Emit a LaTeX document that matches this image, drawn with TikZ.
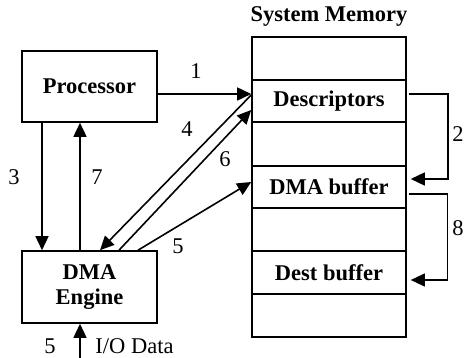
\documentclass[tikz,border=0pt]{standalone}
\usepackage{fontspec}
\setmainfont{Liberation Serif}
\usetikzlibrary{arrows.meta}
\begin{document}
\begin{tikzpicture}[x=1pt,y=-1pt,line width=1.6pt,
  every node/.style={font=\fontsize{22.5}{25}\selectfont,inner sep=0pt},
  blk/.style={draw,minimum width=135pt,minimum height=71pt,align=center,
    font=\bfseries\fontsize{22.5}{25}\selectfont},
  cell/.style={draw,minimum width=154pt,minimum height=43pt,
    font=\bfseries\fontsize{22.5}{25}\selectfont},
  arr/.style={-{Triangle[length=14pt,width=13pt]}},
  lbl/.style={anchor=base}]
\useasboundingbox (0,0) rectangle (468,358);

% processor and DMA engine
\node[blk] (proc) at (89.5,86.5) {Processor};
\node[blk,minimum height=72pt] (dma) at (89.5,287) {DMA\\Engine};

% system memory column
\node[lbl,font=\bfseries\fontsize{22.5}{25}\selectfont] (title) at (329,22) {System Memory};
\node[cell] (m1) at (329,58.5) {};
\node[cell,minimum height=42pt] (m2) at (329,101) {Descriptors};
\node[cell,minimum height=44pt] (m3) at (329,144) {};
\node[cell,minimum height=42pt] (m4) at (329,187) {DMA buffer};
\node[cell] (m5) at (329,229.5) {};
\node[cell] (m6) at (329,272.5) {Dest buffer};
\node[cell] (m7) at (329,315.5) {};

% numbered transfer steps
\draw[arr] ([yshift=-7.5pt]proc.east) -- ([yshift=7pt]m2.west);
\draw[arr] ([xshift=2pt,yshift=7pt]m2.east) -- ++(39,0) |- ([xshift=4pt,yshift=8pt]m4.east);
\draw[arr] ([xshift=-47.5pt]proc.south) -- ([xshift=-47.5pt]dma.north);
\draw[arr] ([yshift=6pt]m2.west) -- ([xshift=10.5pt]dma.north);
\draw[arr] ([xshift=29.5pt]dma.north) -- ([yshift=-9pt]m2.west);
\draw[arr] ([xshift=48.5pt]dma.north) -- ([yshift=5pt]m4.west);
\draw[arr] ([xshift=-9.5pt]dma.north) -- ([xshift=-9.5pt]proc.south);
\draw[arr,line width=1.1pt] ([xshift=2pt,yshift=-7pt]m4.east) -- ++(39,0) |- ([xshift=4pt,yshift=-7.5pt]m6.east);
\coordinate (io) at (80,358);
\draw[arr] (io) -- ([xshift=-9.5pt]dma.south);

% step labels
\node[lbl] (l1) at (196,79) {1};
\node[lbl] (l2) at (458,142) {2};
\node[lbl] (l3) at (14,185) {3};
\node[lbl] (l4) at (187,137) {4};
\node[lbl] (l5) at (178,253) {5};
\node[lbl] (l6) at (225,167) {6};
\node[lbl] (l7) at (97,185) {7};
\node[lbl] (l8) at (458,235) {8};
\node[lbl] (l5b) at (50,353) {5};
\node[lbl] (lio) at (134.5,353) {I/O Data};
\end{tikzpicture}
\end{document}
